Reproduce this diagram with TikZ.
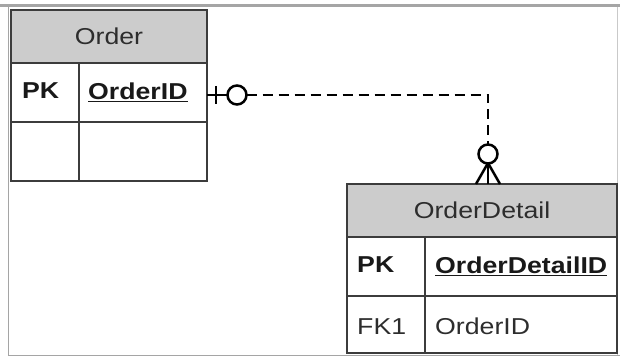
\documentclass[tikz,border=0pt]{standalone}
\usepackage{fontspec}
\setmainfont{Liberation Sans}[FakeStretch=1.16]
\usetikzlibrary{calc}
\definecolor{hdrgray}{RGB}{204,204,204}
\definecolor{bord}{RGB}{60,60,60}
\definecolor{txt}{RGB}{45,45,45}
\definecolor{framegray}{RGB}{165,165,165}
\tikzset{
  cell/.style={draw=bord, line width=2.4pt, rectangle, anchor=north west, inner sep=0pt, outer sep=0pt},
  hdr/.style={cell, fill=hdrgray, text=txt, font=\fontsize{23}{26}\selectfont},
  lbl/.style={font=\fontsize{23}{26}\selectfont, text=txt, inner sep=0pt, anchor=west},
  blbl/.style={lbl, font=\fontsize{23}{26}\selectfont\bfseries, text=black!90},
  conn/.style={draw=black, line width=2.5pt},
  dashconn/.style={conn, dash pattern=on 10pt off 6pt},
}
\begin{document}
\begin{tikzpicture}[x=1pt,y=-1pt]
\useasboundingbox (0,0) rectangle (620,358);
% frame
\draw[framegray, line width=1.2pt] (8.5,6) -- (8.5,355.5) -- (620,355.5);
\draw[framegray!60, line width=1pt] (617.5,6) -- (617.5,355);
\draw[framegray, line width=3pt] (0,6) -- (620,6);
% Order table
\node[hdr, minimum width=196pt, minimum height=53pt] (oh) at (11,10) {Order};
\node[cell, minimum width=68pt, minimum height=59pt] (ok1) at (11,63) {};
\node[cell, minimum width=128pt, minimum height=59pt] (or1) at (79,63) {};
\node[cell, minimum width=68pt, minimum height=59pt] (ok2) at (11,122) {};
\node[cell, minimum width=128pt, minimum height=59pt] (or2) at (79,122) {};
\node[blbl] (pk1) at ($(ok1.west)+(11,-2)$) {PK};
\node[blbl] (oid) at ($(or1.west)+(9,0)$) {\underline{OrderID}};
% OrderDetail table
\node[hdr, minimum width=270pt, minimum height=53pt] (dh) at (347,184) {OrderDetail};
\node[cell, minimum width=78pt, minimum height=59pt] (dk1) at (347,237) {};
\node[cell, minimum width=192pt, minimum height=59pt] (dr1) at (425,237) {};
\node[cell, minimum width=78pt, minimum height=57pt] (dk2) at (347,296) {};
\node[cell, minimum width=192pt, minimum height=57pt] (dr2) at (425,296) {};
\node[blbl] (pk2) at ($(dk1.west)+(10,-2)$) {PK};
\node[blbl] (odid) at ($(dr1.west)+(10,0)$) {\underline{OrderDetailID}};
\node[lbl] (fk1) at ($(dk2.west)+(10,2)$) {FK1};
\node[lbl] (oid2) at ($(dr2.west)+(10,2)$) {OrderID};
% relationship
\coordinate (a) at ($(or1.east)+(0,2.5)$);
\coordinate (b) at ($(dh.north)+(6,0)$);
\draw[conn] (a) -- ($(a)+(20.5,0)$);
\draw[conn] ($(a)+(9,-9)$) -- ($(a)+(9,9)$);
\draw[conn] ($(a)+(30,0)$) circle[radius=9.5pt];
\draw[dashconn] ($(a)+(39.5,0)$) -| ($(b)+(0,-39.5)$);
\draw[conn] ($(b)+(0,-30)$) circle[radius=9.5pt];
\draw[conn] ($(b)+(0,-21)$) -- ($(b)+(-12,0)$);
\draw[conn] ($(b)+(0,-21)$) -- (b);
\draw[conn] ($(b)+(0,-21)$) -- ($(b)+(12,0)$);
\end{tikzpicture}
\end{document}
